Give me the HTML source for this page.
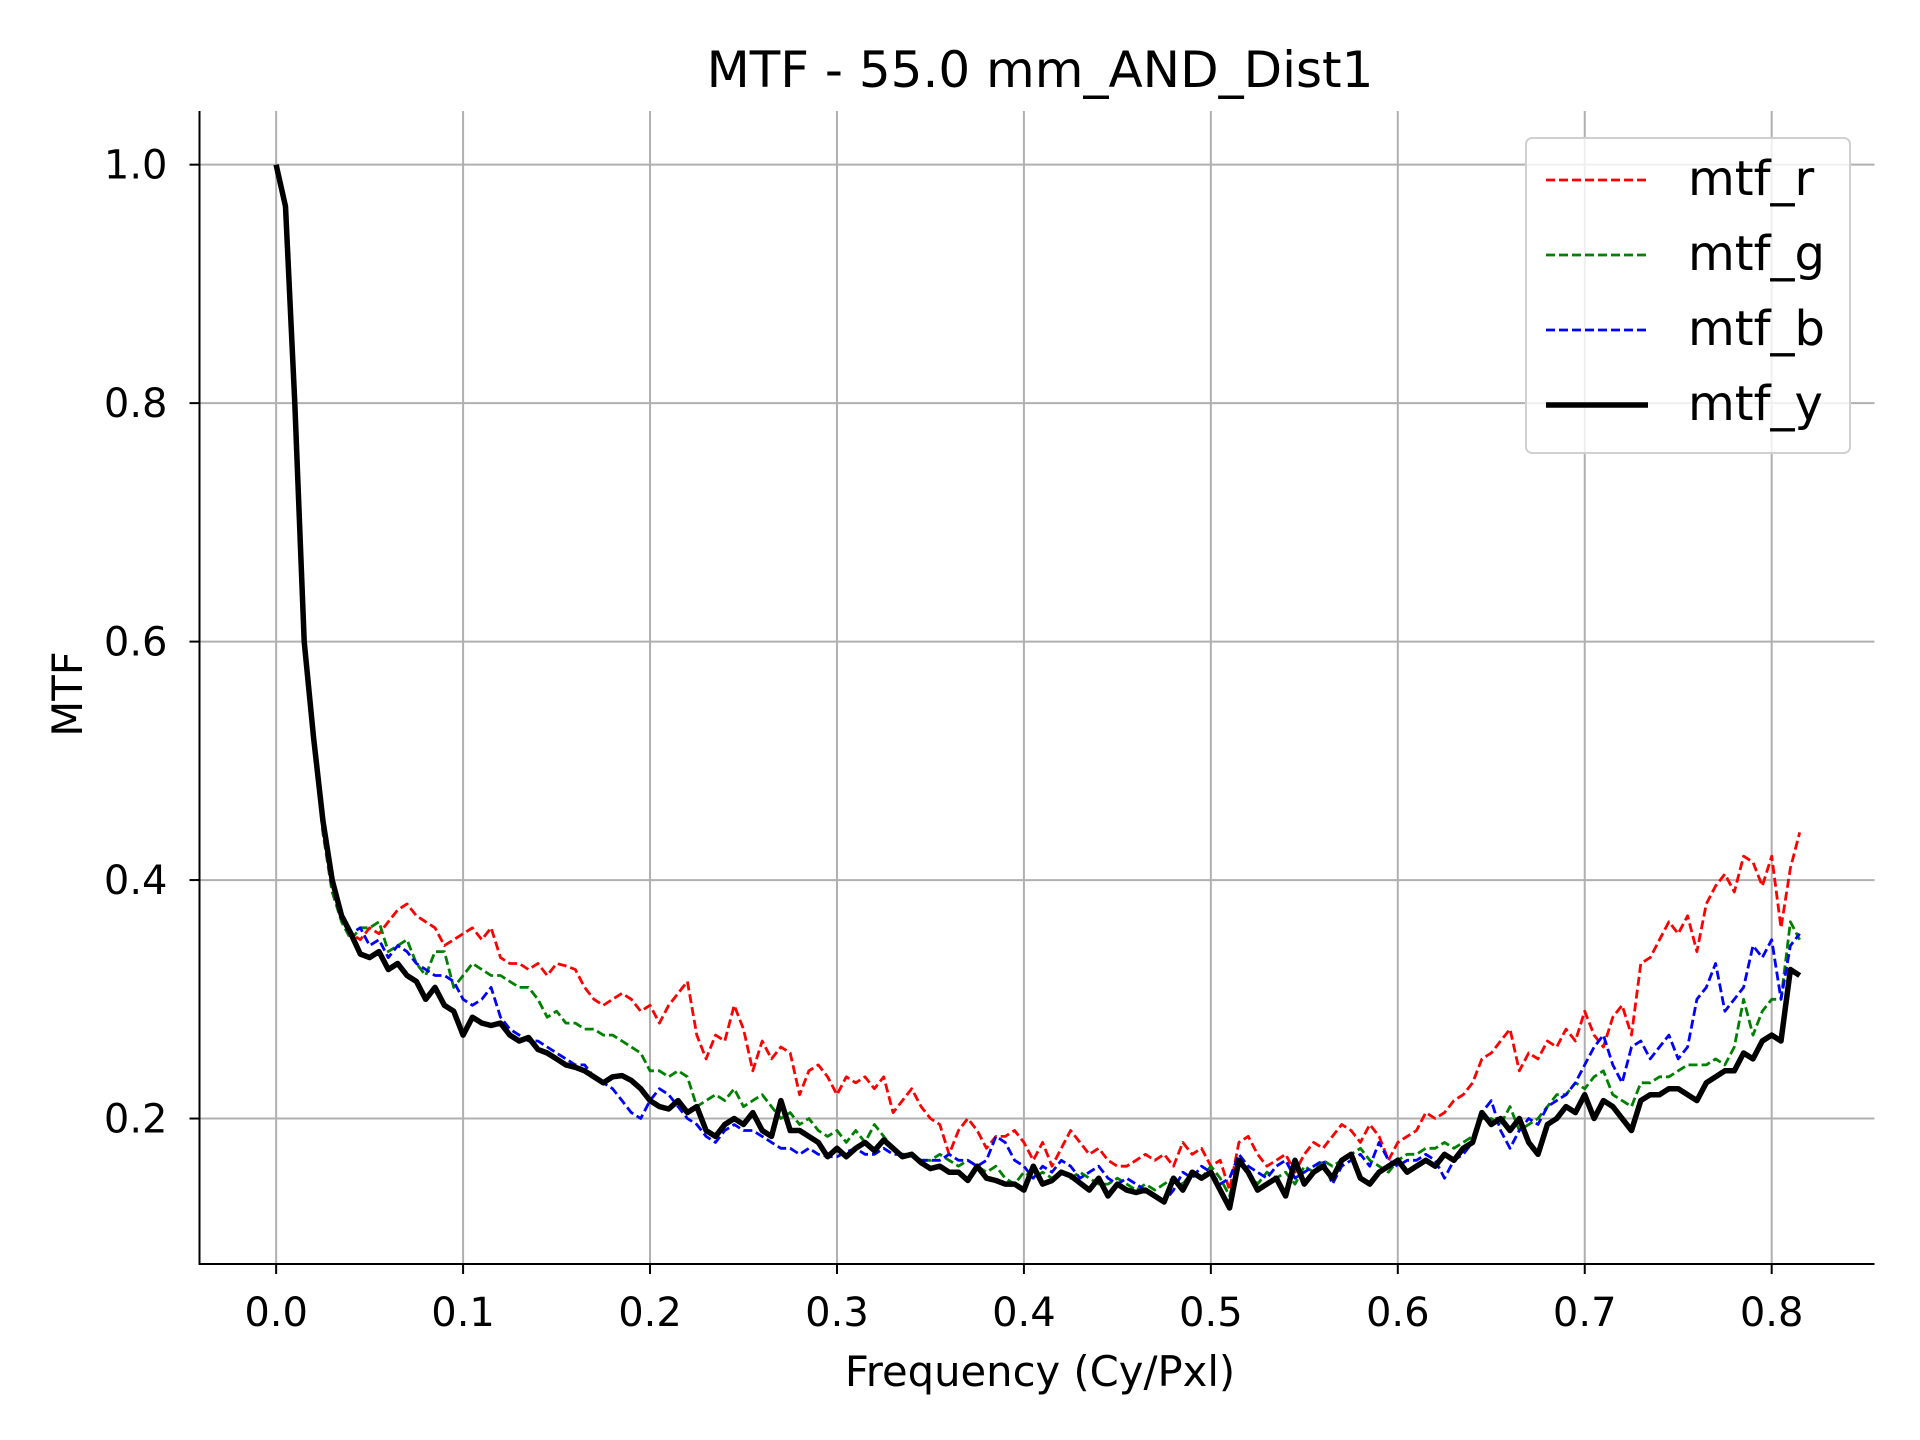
<!DOCTYPE html>
<html><head><meta charset="utf-8">
<style>
html,body{margin:0;padding:0;background:#fff;}
svg{display:block;font-family:"DejaVu Sans","Liberation Sans",sans-serif;}
</style></head>
<body>
<svg id="chart" width="1920" height="1440" viewBox="0 0 1920 1440" xmlns="http://www.w3.org/2000/svg">
<rect width="1920" height="1440" fill="#fff"/>
<text x="1040" y="87" font-size="50" text-anchor="middle" fill="#000">MTF - 55.0 mm_AND_Dist1</text>
<g id="grid"></g>
<g id="series"></g>
<g id="axes"></g>
<text x="1040" y="1386" font-size="41.7" text-anchor="middle">Frequency (Cy/Pxl)</text>
<text transform="translate(82,694) rotate(-90)" font-size="41.7" text-anchor="middle">MTF</text>
<g id="legend"></g>
</svg>
<script>
const xTicks=[0,0.1,0.2,0.3,0.4,0.5,0.6,0.7,0.8];
const xTickLabels=["0.0","0.1","0.2","0.3","0.4","0.5","0.6","0.7","0.8"];
const yTicks=[0.2,0.4,0.6,0.8,1.0];
const yTickLabels=["0.2","0.4","0.6","0.8","1.0"];
const freqStep=0.005;
const mtfY=[1.0,0.965,0.80,0.60,0.52,0.45,0.40,0.37,0.355,0.338,0.335,0.34,0.325,0.33,0.32,0.315,0.30,0.31,0.295,0.29,0.27,0.285,0.28,0.278,0.28,0.27,0.265,0.268,0.258,0.255,0.25,0.245,0.243,0.24,0.235,0.23,0.235,0.236,0.232,0.225,0.215,0.21,0.208,0.215,0.205,0.21,0.19,0.185,0.195,0.20,0.195,0.205,0.19,0.185,0.215,0.19,0.19,0.185,0.18,0.168,0.175,0.168,0.175,0.18,0.173,0.182,0.175,0.168,0.17,0.163,0.158,0.16,0.155,0.155,0.148,0.16,0.15,0.148,0.145,0.145,0.14,0.16,0.145,0.148,0.155,0.152,0.146,0.14,0.15,0.135,0.145,0.14,0.138,0.14,0.135,0.13,0.15,0.14,0.155,0.15,0.155,0.14,0.125,0.165,0.155,0.14,0.145,0.15,0.135,0.165,0.145,0.155,0.16,0.15,0.165,0.17,0.15,0.145,0.155,0.16,0.165,0.155,0.16,0.165,0.16,0.17,0.165,0.175,0.18,0.205,0.195,0.2,0.19,0.2,0.18,0.17,0.195,0.2,0.21,0.205,0.22,0.2,0.215,0.21,0.2,0.19,0.215,0.22,0.22,0.225,0.225,0.22,0.215,0.23,0.235,0.24,0.24,0.255,0.25,0.265,0.27,0.265,0.325,0.32];
const colorStart=0.02;
const mtfR=[0.52,0.44,0.39,0.37,0.355,0.35,0.36,0.355,0.365,0.375,0.38,0.37,0.365,0.36,0.345,0.35,0.355,0.36,0.35,0.36,0.335,0.33,0.33,0.325,0.33,0.32,0.33,0.328,0.325,0.31,0.30,0.295,0.30,0.305,0.30,0.29,0.295,0.28,0.295,0.305,0.315,0.27,0.25,0.27,0.265,0.295,0.275,0.24,0.265,0.25,0.26,0.255,0.22,0.24,0.245,0.235,0.22,0.235,0.23,0.235,0.225,0.235,0.205,0.215,0.225,0.21,0.2,0.195,0.17,0.19,0.2,0.19,0.175,0.185,0.185,0.19,0.18,0.165,0.18,0.16,0.175,0.19,0.18,0.17,0.175,0.165,0.16,0.16,0.165,0.17,0.165,0.17,0.16,0.18,0.17,0.175,0.16,0.165,0.14,0.18,0.185,0.17,0.16,0.165,0.17,0.155,0.17,0.18,0.175,0.185,0.195,0.19,0.18,0.195,0.185,0.165,0.18,0.185,0.19,0.205,0.2,0.205,0.215,0.22,0.23,0.25,0.255,0.265,0.275,0.24,0.255,0.25,0.265,0.26,0.275,0.265,0.29,0.27,0.26,0.285,0.295,0.27,0.33,0.335,0.35,0.365,0.355,0.37,0.34,0.38,0.395,0.405,0.39,0.42,0.415,0.395,0.42,0.36,0.41,0.44];
const mtfG=[0.52,0.44,0.39,0.365,0.35,0.36,0.36,0.365,0.34,0.345,0.35,0.33,0.32,0.34,0.34,0.31,0.32,0.33,0.325,0.32,0.32,0.315,0.31,0.31,0.3,0.285,0.29,0.28,0.28,0.275,0.275,0.27,0.27,0.265,0.26,0.255,0.24,0.24,0.235,0.24,0.235,0.21,0.215,0.22,0.215,0.225,0.21,0.215,0.22,0.21,0.2,0.205,0.195,0.2,0.19,0.185,0.19,0.18,0.19,0.18,0.195,0.185,0.175,0.17,0.17,0.165,0.165,0.17,0.165,0.16,0.165,0.16,0.155,0.16,0.15,0.145,0.155,0.15,0.155,0.15,0.155,0.15,0.155,0.15,0.145,0.145,0.15,0.145,0.14,0.145,0.14,0.145,0.15,0.145,0.155,0.15,0.16,0.15,0.135,0.165,0.155,0.145,0.155,0.15,0.155,0.145,0.16,0.155,0.165,0.16,0.165,0.17,0.175,0.165,0.16,0.155,0.165,0.17,0.17,0.175,0.175,0.18,0.175,0.18,0.185,0.2,0.2,0.195,0.21,0.19,0.195,0.2,0.21,0.22,0.22,0.23,0.225,0.235,0.24,0.22,0.215,0.21,0.23,0.23,0.235,0.235,0.24,0.245,0.245,0.245,0.25,0.245,0.26,0.3,0.27,0.29,0.3,0.3,0.365,0.35];
const mtfB=[0.52,0.45,0.40,0.37,0.355,0.36,0.345,0.35,0.335,0.345,0.34,0.33,0.325,0.32,0.32,0.315,0.3,0.295,0.3,0.31,0.285,0.275,0.27,0.265,0.265,0.26,0.255,0.25,0.245,0.245,0.235,0.23,0.225,0.215,0.205,0.2,0.215,0.225,0.22,0.21,0.2,0.195,0.185,0.18,0.19,0.195,0.19,0.19,0.185,0.18,0.175,0.175,0.17,0.175,0.17,0.168,0.168,0.172,0.175,0.17,0.17,0.175,0.17,0.17,0.17,0.165,0.165,0.165,0.17,0.165,0.165,0.16,0.165,0.185,0.18,0.165,0.16,0.15,0.16,0.155,0.165,0.16,0.15,0.155,0.16,0.15,0.145,0.15,0.145,0.14,0.135,0.13,0.14,0.155,0.15,0.16,0.155,0.145,0.15,0.17,0.16,0.155,0.15,0.16,0.165,0.15,0.155,0.16,0.165,0.145,0.16,0.165,0.17,0.16,0.18,0.165,0.16,0.165,0.165,0.17,0.165,0.15,0.165,0.17,0.18,0.205,0.215,0.19,0.175,0.19,0.2,0.195,0.21,0.215,0.22,0.23,0.245,0.26,0.27,0.245,0.23,0.26,0.265,0.25,0.26,0.27,0.25,0.26,0.3,0.31,0.33,0.29,0.3,0.31,0.345,0.335,0.35,0.3,0.345,0.355];

const L=199.5,R=1874.5,T=111,B=1264;
const xMin=-0.041,xMax=0.855,yMin=0.078,yMax=1.045;
const xs=v=>L+(v-xMin)/(xMax-xMin)*(R-L);
const ys=v=>B-(v-yMin)/(yMax-yMin)*(B-T);
const NS="http://www.w3.org/2000/svg";
function mk(tag,parent){const e=document.createElementNS(NS,tag);parent.appendChild(e);return e;}
const grid=document.getElementById('grid'),axes=document.getElementById('axes'),ser=document.getElementById('series');

xTicks.forEach((t,i)=>{
  const x=xs(t);
  const g=mk('line',grid);g.setAttribute('x1',x);g.setAttribute('x2',x);g.setAttribute('y1',T);g.setAttribute('y2',B);
  g.setAttribute('stroke','#b0b0b0');g.setAttribute('stroke-width','2');
  
  
  const tk=mk('line',axes);tk.setAttribute('x1',x);tk.setAttribute('x2',x);tk.setAttribute('y1',B);tk.setAttribute('y2',B+10);tk.setAttribute('stroke','#000');tk.setAttribute('stroke-width','2');
  
  
  const lb=mk('text',axes);lb.setAttribute('x',x);lb.setAttribute('y',1326);lb.setAttribute('font-size','40');lb.setAttribute('text-anchor','middle');lb.textContent=xTickLabels[i];
  
  
});
yTicks.forEach((t,i)=>{
  const y=ys(t);
  const g=mk('line',grid);g.setAttribute('x1',L);g.setAttribute('x2',R);g.setAttribute('y1',y);g.setAttribute('y2',y);
  g.setAttribute('stroke','#b0b0b0');g.setAttribute('stroke-width','2');
  
  
  const tk=mk('line',axes);tk.setAttribute('x1',L-10);tk.setAttribute('x2',L);tk.setAttribute('y1',y);tk.setAttribute('y2',y);tk.setAttribute('stroke','#000');tk.setAttribute('stroke-width','2');
  
  
  const lb=mk('text',axes);lb.setAttribute('x',L-32);lb.setAttribute('y',y+14);lb.setAttribute('font-size','40');lb.setAttribute('text-anchor','end');lb.textContent=yTickLabels[i];
  
  
});
const sl=mk('line',axes);sl.setAttribute('x1',L);sl.setAttribute('x2',L);sl.setAttribute('y1',T);sl.setAttribute('y2',B+1);sl.setAttribute('stroke','#000');sl.setAttribute('stroke-width','2');


const sb=mk('line',axes);sb.setAttribute('x1',L-1);sb.setAttribute('x2',R);sb.setAttribute('y1',B);sb.setAttribute('y2',B);sb.setAttribute('stroke','#000');sb.setAttribute('stroke-width','2');



function drawLine(vals,start,color,w,dash,name){
  const pts=vals.map((v,i)=>xs(start+i*freqStep).toFixed(1)+','+ys(v).toFixed(1)).join(' ');
  const p=mk('polyline',ser);p.setAttribute('points',pts);p.setAttribute('fill','none');p.setAttribute('stroke',color);p.setAttribute('stroke-width',w);p.setAttribute('stroke-linejoin','round');
  if(dash)p.setAttribute('stroke-dasharray',dash);
  
  
}
drawLine(mtfR,colorStart,'#ff0000',2.8,'9,4','mtf-r-line');
drawLine(mtfG,colorStart,'#008000',2.8,'9,4','mtf-g-line');
drawLine(mtfB,colorStart,'#0000ff',2.8,'9,4','mtf-b-line');
drawLine(mtfY,0,'#000000',5.5,null,'mtf-y-line');

const lg=document.getElementById('legend');
const box=mk('rect',lg);box.setAttribute('x',1526);box.setAttribute('y',138);box.setAttribute('width',324);box.setAttribute('height',315);box.setAttribute('rx',6);box.setAttribute('fill','#fff');box.setAttribute('fill-opacity','0.8');box.setAttribute('stroke','#d0d0d0');box.setAttribute('stroke-width','2');


const legNames=['mtf_r','mtf_g','mtf_b','mtf_y'];
const legColors=['#ff0000','#008000','#0000ff','#000000'];
legNames.forEach((n,i)=>{
  const y=180+i*75;
  const ln=mk('line',lg);ln.setAttribute('x1',1546);ln.setAttribute('x2',1648);ln.setAttribute('y1',y);ln.setAttribute('y2',y);ln.setAttribute('stroke',legColors[i]);
  ln.setAttribute('stroke-width',i===3?5.5:2.8);if(i<3)ln.setAttribute('stroke-dasharray','9,4');
  
  
  const t=mk('text',lg);t.setAttribute('x',1688);t.setAttribute('y',y+15);t.setAttribute('font-size','48');t.textContent=n;
  
  
});
</script>
</body></html>
